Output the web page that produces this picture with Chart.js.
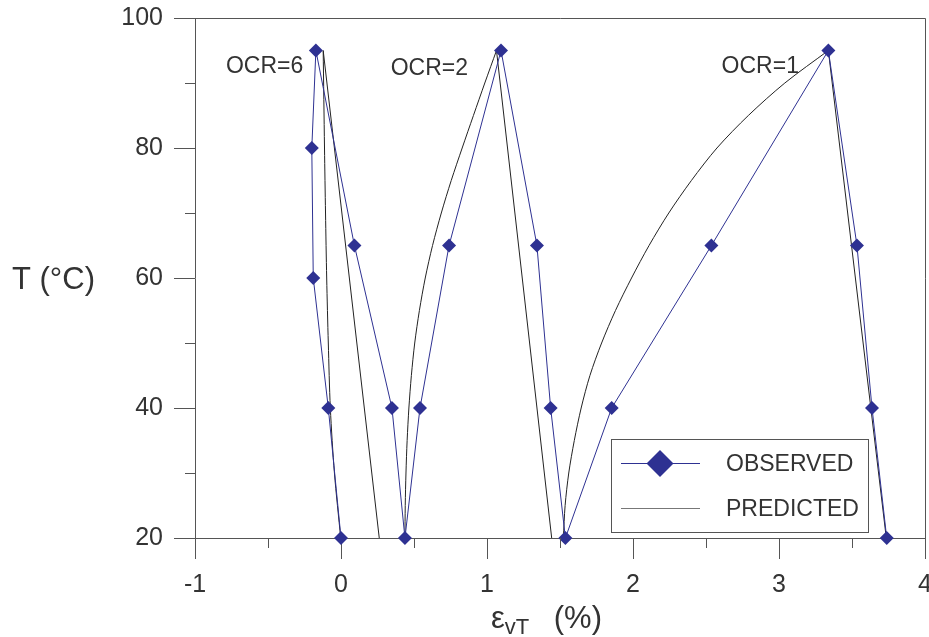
<!DOCTYPE html>
<html><head><meta charset="utf-8">
<script src="https://cdn.jsdelivr.net/npm/chart.js@4.4.1/dist/chart.umd.min.js"></script>
<style>html,body{margin:0;padding:0;background:#fff;} #c{display:block;}</style>
</head><body>
<canvas id="c" width="929" height="637"></canvas>
<script>
// ---- tick values ----
const xTicks = [-1, 0, 1, 2, 3, 4];
const yTicks = [20, 40, 60, 80, 100];
const xMinorTicks = [-0.5, 0.5, 1.5, 2.5, 3.5];
const yMinorTicks = [30, 50, 70, 90];

// ---- observed (one continuous path: OCR=6, OCR=2, OCR=1) ----
const obsStrain = [0.0, -0.087, -0.19, -0.2, -0.172, 0.092, 0.349, 0.438,
                   0.541, 0.740, 1.096, 1.342, 1.436, 1.537,
                   1.854, 2.537, 3.338, 3.534, 3.637, 3.738];
const obsTemp   = [20, 40, 60, 80, 95, 65, 40, 20,
                   40, 65, 95, 65, 40, 20,
                   40, 65, 95, 65, 40, 20];

// ---- predicted ----
const pred6HeatT = [20, 30, 40, 50, 60, 70, 80, 95];
const pred6HeatX = [-0.002, -0.045, -0.073, -0.087, -0.098, -0.106, -0.113, -0.122];
const pred6CoolT = [95, 20];
const pred6CoolX = [-0.122, 0.262];

const pred2HeatT = [20, 25, 30, 35, 40, 45, 50, 55, 60, 65, 70, 75, 80, 85, 90, 95];
const pred2HeatX = [0.438, 0.440, 0.445, 0.453, 0.465, 0.482, 0.505, 0.537, 0.577, 0.627, 0.687, 0.755, 0.830, 0.907, 0.985, 1.065];
const pred2CoolT = [95, 20];
const pred2CoolX = [1.065, 1.443];

const pred1HeatT = [20, 25, 30, 35, 40, 45, 50, 55, 60, 65, 70, 75, 80, 85, 90, 95];
const pred1HeatX = [1.523, 1.535, 1.560, 1.598, 1.645, 1.705, 1.785, 1.880, 1.990, 2.110, 2.245, 2.400, 2.575, 2.790, 3.040, 3.338];
const pred1CoolT = [95, 20];
const pred1CoolX = [3.338, 3.735];

// ---- annotations (data units) ----
const ocrLabels = ['OCR=6', 'OCR=2', 'OCR=1'];
const ocrLabelX = [-0.788, 0.340, 2.607];
const ocrLabelT = [91.6, 91.3, 91.6];

const BLUE = '#2E3192';
const PRED = '#222222';
const AXIS = '#555555';
const TEXT = '#333333';
const FONT = "'Liberation Sans', Arial, Helvetica, sans-serif";

function zip(xs, ts) { return xs.map((v, i) => ({ x: v, y: ts[i] })); }
function predSet(xs, ts, tension) {
  return { data: zip(xs, ts), showLine: true, borderColor: PRED, borderWidth: 1,
           pointRadius: 0, tension: tension, fill: false };
}

function align(chart, px) {
  const d = chart.currentDevicePixelRatio || 1;
  return Math.round((px - 0.5) * d) / d + 0.5;
}

const decor = {
  id: 'decor',
  afterDraw(chart) {
    const { ctx, chartArea: a, scales: { x, y } } = chart;
    ctx.save();
    ctx.strokeStyle = AXIS; ctx.lineWidth = 1;
    // top & right borders
    const top = align(chart, a.top), right = align(chart, x.getPixelForValue(4));
    ctx.beginPath();
    ctx.moveTo(a.left, top); ctx.lineTo(right, top); ctx.lineTo(right, a.bottom);
    ctx.stroke();
    // minor ticks
    ctx.beginPath();
    xMinorTicks.forEach(v => {
      const p = align(chart, x.getPixelForValue(v));
      ctx.moveTo(p, a.bottom); ctx.lineTo(p, a.bottom + 10);
    });
    yMinorTicks.forEach(v => {
      const p = align(chart, y.getPixelForValue(v));
      ctx.moveTo(a.left - 10, p); ctx.lineTo(a.left, p);
    });
    ctx.stroke();

    ctx.fillStyle = TEXT;
    ctx.textBaseline = 'alphabetic';
    ctx.textAlign = 'left';
    // y title
    ctx.font = '31px ' + FONT;
    ctx.fillText('T (°C)', 12, y.getPixelForValue(60) + 11);
    // x title with subscript
    const big = '31px ' + FONT, small = '22px ' + FONT;
    const by = 628;
    let sx = 491;
    ctx.font = big; ctx.fillText('ε', sx, by); sx += ctx.measureText('ε').width;
    ctx.font = small; ctx.fillText('vT', sx, by + 6);
    ctx.font = big; ctx.textAlign = 'right'; ctx.fillText('(%)', 602, by);
    ctx.textAlign = 'left';
    // OCR labels
    ctx.font = '23px ' + FONT;
    ocrLabels.forEach((t, i) => {
      ctx.fillText(t, x.getPixelForValue(ocrLabelX[i]), y.getPixelForValue(ocrLabelT[i]));
    });
    // legend
    const lx = 611.5, ly = 439.5, lw = 257, lh = 93;
    ctx.strokeStyle = AXIS; ctx.lineWidth = 1;
    ctx.strokeRect(lx, ly, lw, lh);
    ctx.strokeStyle = BLUE;
    ctx.beginPath(); ctx.moveTo(621, 463.5); ctx.lineTo(700, 463.5); ctx.stroke();
    ctx.fillStyle = BLUE;
    ctx.beginPath();
    ctx.moveTo(660, 450); ctx.lineTo(673.5, 463.5); ctx.lineTo(660, 477); ctx.lineTo(646.5, 463.5);
    ctx.closePath(); ctx.fill();
    ctx.strokeStyle = '#777';
    ctx.beginPath(); ctx.moveTo(621, 508.5); ctx.lineTo(700, 508.5); ctx.stroke();
    ctx.fillStyle = TEXT;
    ctx.font = '23px ' + FONT;
    ctx.fillText('OBSERVED', 726, 471);
    ctx.fillText('PREDICTED', 726, 516);
    ctx.restore();
  }
};

const chart = new Chart(document.getElementById('c'), {
  type: 'scatter',
  data: {
    datasets: [
      { data: zip(obsStrain, obsTemp), showLine: true, borderColor: BLUE, borderWidth: 1,
        pointStyle: 'rectRot', pointRadius: 7, pointBackgroundColor: BLUE, pointBorderColor: BLUE,
        pointBorderWidth: 0, tension: 0, clip: false },
      predSet(pred6HeatX, pred6HeatT, 0.3),
      predSet(pred6CoolX, pred6CoolT, 0),
      predSet(pred2HeatX, pred2HeatT, 0.3),
      predSet(pred2CoolX, pred2CoolT, 0),
      predSet(pred1HeatX, pred1HeatT, 0.3),
      predSet(pred1CoolX, pred1CoolT, 0)
    ]
  },
  options: {
    responsive: false,
    animation: false,
    events: [],
    layout: { autoPadding: false, padding: { top: 18, right: 4, left: 0, bottom: 0 } },
    plugins: { legend: { display: false }, tooltip: { enabled: false } },
    scales: {
      x: {
        type: 'linear', min: -1, max: 4,
        afterBuildTicks: s => { s.ticks = xTicks.map(v => ({ value: v })); },
        afterFit: s => { s.height = 99; s.paddingLeft = 0; s.paddingRight = 0; },
        ticks: { color: TEXT, font: { size: 25, family: FONT }, padding: 11, maxRotation: 0, autoSkip: false },
        grid: { drawOnChartArea: false, tickLength: 21, color: AXIS, lineWidth: 1 },
        border: { color: AXIS, width: 1 }
      },
      y: {
        type: 'linear', min: 20, max: 100,
        afterBuildTicks: s => { s.ticks = yTicks.map(v => ({ value: v })); },
        afterFit: s => { s.width = 195; s.paddingTop = 0; s.paddingBottom = 0; },
        ticks: { color: TEXT, font: { size: 25, family: FONT }, padding: 11, autoSkip: false },
        grid: { drawOnChartArea: false, tickLength: 21, color: AXIS, lineWidth: 1 },
        border: { color: AXIS, width: 1 }
      }
    }
  },
  plugins: [decor]
});

// nudge layout padding so the plot area lands on the reference frame
for (let i = 0; i < 4; i++) {
  const a = chart.chartArea, p = chart.config.options.layout.padding;
  const dr = 925 - a.right, dt = a.top - 18, dl = a.left - 195;
  if (Math.abs(dr) < 0.5 && Math.abs(dt) < 0.5 && Math.abs(dl) < 0.5) break;
  p.right -= dr; p.top -= dt; p.left -= dl;
  chart.update();
}
</script>
</body></html>
